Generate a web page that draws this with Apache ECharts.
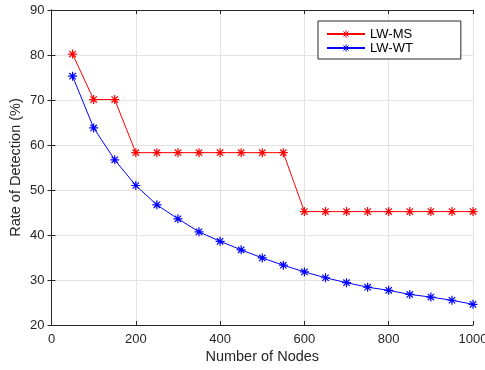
<!DOCTYPE html>
<html>
<head>
<meta charset="utf-8">
<script src="https://cdn.jsdelivr.net/npm/echarts@6/dist/echarts.min.js"></script>
<style>
  html, body { margin: 0; padding: 0; background: #fff; }
  #chart { width: 485px; height: 370px; }
</style>
</head>
<body>
<div id="chart"></div>
<script>
const nodes = [50, 100, 150, 200, 250, 300, 350, 400, 450, 500, 550, 600, 650, 700, 750, 800, 850, 900, 950, 1000];
const lwMS = [80.2, 70.1, 70.1, 58.3, 58.3, 58.3, 58.3, 58.3, 58.3, 58.3, 58.3, 45.2, 45.2, 45.2, 45.2, 45.2, 45.2, 45.2, 45.2, 45.2];
const lwWT = [75.3, 63.8, 56.7, 51.0, 46.7, 43.6, 40.7, 38.6, 36.7, 34.9, 33.3, 31.8, 30.5, 29.4, 28.4, 27.7, 26.8, 26.2, 25.5, 24.6];
const seriesNames = ['LW-MS', 'LW-WT'];

// asterisk marker like matlab '*'
const star = 'path://M0,-10L0,10M-10,0L10,0M-7.07,-7.07L7.07,7.07M-7.07,7.07L7.07,-7.07';
const axisColor = '#262626';
const font = 'Liberation Sans, Arial, sans-serif';

const chart = echarts.init(document.getElementById('chart'));

const boxAxis = (pos, idx) => ({
  type: 'value',
  position: pos,
  min: idx === 'x' ? 0 : 20,
  max: idx === 'x' ? 1000 : 90,
  interval: idx === 'x' ? 200 : 10,
  axisLine: { show: true, lineStyle: { color: axisColor, width: 1 } },
  axisTick: { show: true, inside: true, length: 4, lineStyle: { color: axisColor } },
  axisLabel: { show: false },
  splitLine: { show: false },
});

const option = {
  animation: false,
  textStyle: { fontFamily: font },
  grid: { left: 51.5, right: 12, top: 10, bottom: 45, containLabel: false, outerBoundsMode: 'none' },
  legend: {
    data: seriesNames,
    orient: 'vertical',
    left: 318,
    top: 21,
    itemWidth: 38,
    itemHeight: 9,
    itemGap: 0,
    padding: [6, 48, 4, 8],
    borderColor: axisColor,
    borderWidth: 1,
    backgroundColor: '#fff',
    itemStyle: { borderWidth: 1 },
    textStyle: { color: '#000', fontSize: 13, lineHeight: 14, fontFamily: font },
  },
  xAxis: [
    {
      type: 'value',
      min: 0,
      max: 1000,
      interval: 200,
      name: 'Number of Nodes',
      nameLocation: 'middle',
      nameGap: 24,
      nameMoveOverlap: false,
      nameTextStyle: { color: axisColor, fontSize: 14.5, fontFamily: font },
      axisLine: { show: true, onZero: false, lineStyle: { color: axisColor, width: 1 } },
      axisTick: { show: true, inside: true, length: 4, lineStyle: { color: axisColor } },
      axisLabel: { color: axisColor, fontSize: 13, margin: 8, fontFamily: font, formatter: v => String(v) },
      splitLine: { show: true, lineStyle: { color: '#e3e3e3', width: 1 } },
    },
    boxAxis('top', 'x'),
  ],
  yAxis: [
    {
      type: 'value',
      min: 20,
      max: 90,
      interval: 10,
      name: 'Rate of Detection (%)',
      nameLocation: 'middle',
      nameGap: 28,
      nameMoveOverlap: false,
      nameTextStyle: { color: axisColor, fontSize: 14.5, fontFamily: font },
      axisLine: { show: true, onZero: false, lineStyle: { color: axisColor, width: 1 } },
      axisTick: { show: true, inside: true, length: 4, lineStyle: { color: axisColor } },
      axisLabel: { color: axisColor, fontSize: 13, margin: 7, fontFamily: font },
      splitLine: { show: true, lineStyle: { color: '#e3e3e3', width: 1 } },
    },
    boxAxis('right', 'y'),
  ],
  series: [
    {
      name: seriesNames[0],
      type: 'line',
      data: nodes.map((n, i) => [n, lwMS[i]]),
      symbol: star,
      symbolSize: 9,
      lineStyle: { color: '#ff0000', width: 1 },
      itemStyle: { color: '#ff0000', borderColor: '#ff0000', borderWidth: 1.2 },
    },
    {
      name: seriesNames[1],
      type: 'line',
      data: nodes.map((n, i) => [n, lwWT[i]]),
      symbol: star,
      symbolSize: 9,
      lineStyle: { color: '#0000ff', width: 1 },
      itemStyle: { color: '#0000ff', borderColor: '#0000ff', borderWidth: 1.2 },
    },
  ],
};

chart.setOption(option);
</script>
</body>
</html>
